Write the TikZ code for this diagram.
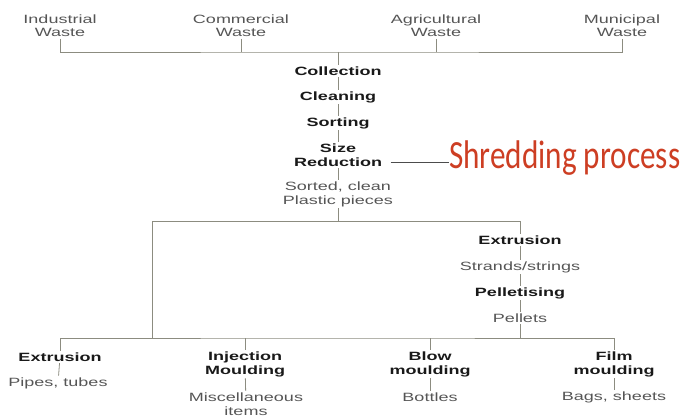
\documentclass[tikz,border=0pt]{standalone}
\usepackage{fontspec}
\setmainfont[FakeStretch=1.5]{Liberation Sans}
\newfontfamily\shredfont[FakeStretch=0.78]{Carlito}
\usetikzlibrary{positioning}

\definecolor{linegray}{RGB}{140,140,128}
\definecolor{txtgray}{RGB}{85,85,85}
\definecolor{txtdark}{RGB}{25,25,25}
\definecolor{shredred}{RGB}{205,62,35}

\begin{document}
\begin{tikzpicture}[
  x=1pt, y=-1pt,
  src/.style={align=center, inner sep=2pt, text=txtgray,
              font=\fontsize{12}{13.5}\selectfont},
  proc/.style={align=center, inner sep=1.5pt, text=txtdark,
               font=\fontsize{12}{14}\selectfont\bfseries},
  prod/.style={align=center, inner sep=1.5pt, text=txtgray,
               font=\fontsize{12}{14}\selectfont},
  link/.style={draw=linegray, line width=0.8pt},
]
  \useasboundingbox (0,0) rectangle (683,417);

  % Row 1: waste sources
  \node[src] (ind) at (60,25.5)  {Industrial\\Waste};
  \node[src] (com) at (241,25.5) {Commercial\\Waste};
  \node[src] (agr) at (436,25.5) {Agricultural\\Waste};
  \node[src] (mun) at (622,25.5) {Municipal\\Waste};
  \coordinate (topbar) at (338,52);

  % Centre column: shredding
  \node[proc] (coll)  at (338,71)  {Collection};
  \node[proc] (clean) at (338,97)  {Cleaning};
  \node[proc] (sort)  at (338,123) {Sorting};
  \node[proc] (size)  at (338,155) {Size\\Reduction};
  \node[prod] (plast) at (338,194) {Sorted, clean\\Plastic pieces};
  \node[anchor=base west, inner sep=0pt, text=shredred,
        font=\fontsize{40}{40}\selectfont\shredfont] (shred) at (449,168) {Shredding process};
  \coordinate (midbar) at (338,221);

  % Right branch: pellets
  \node[proc] (extb)  at (520,240) {Extrusion};
  \node[prod] (strd)  at (520,267) {Strands/strings};
  \node[proc] (pellt) at (520,293) {Pelletising};
  \node[prod] (pells) at (520,318) {Pellets};
  \coordinate (botbar) at (338,338);
  \coordinate (leftdrop) at (152,338);

  % Bottom row: products
  \node[proc] (exta)  at (60,357)  {Extrusion};
  \node[prod] (pipes) at (58,383)  {Pipes, tubes};
  \node[proc] (inj)   at (245,364) {Injection\\Moulding};
  \node[prod] (misc)  at (246,404) {Miscellaneous\\items};
  \node[proc] (blow)  at (430,364) {Blow\\moulding};
  \node[prod] (bott)  at (430,397) {Bottles};
  \node[proc] (film)  at (614,364) {Film\\moulding};
  \node[prod] (bags)  at (614,397) {Bags, sheets};

  % Connectors
  \draw[link] (ind.south) |- (topbar) -| (mun.south);
  \draw[link] (com.south) -- (com.south |- topbar);
  \draw[link] (agr.south) -- (agr.south |- topbar);
  \draw[link] (topbar) -- (coll.north);
  \draw[link] (coll) -- (clean);
  \draw[link] (clean) -- (sort);
  \draw[link] (sort) -- (size);
  \draw[link] (size) -- (plast);
  \draw[link, draw=black!70] ([xshift=7pt]size.east |- 0,162) -- (shred.west |- 0,162);
  \draw[link] (plast.south) -- (midbar);
  \draw[link] (midbar) -| (leftdrop);
  \draw[link] (midbar) -| (extb.north);
  \draw[link] (extb) -- (strd);
  \draw[link] (strd) -- (pellt);
  \draw[link] (pellt) -- (pells);
  \draw[link] (pells.south) -- (pells.south |- botbar);
  \draw[link] (exta.north) |- (botbar) -| (film.north);
  \draw[link] (inj.north) -- (inj.north |- botbar);
  \draw[link] (blow.north) -- (blow.north |- botbar);
  \draw[link] (exta) -- (pipes);
  \draw[link] (inj) -- (misc);
  \draw[link] (blow) -- (bott);
  \draw[link] (film) -- (bags);
\end{tikzpicture}
\end{document}
